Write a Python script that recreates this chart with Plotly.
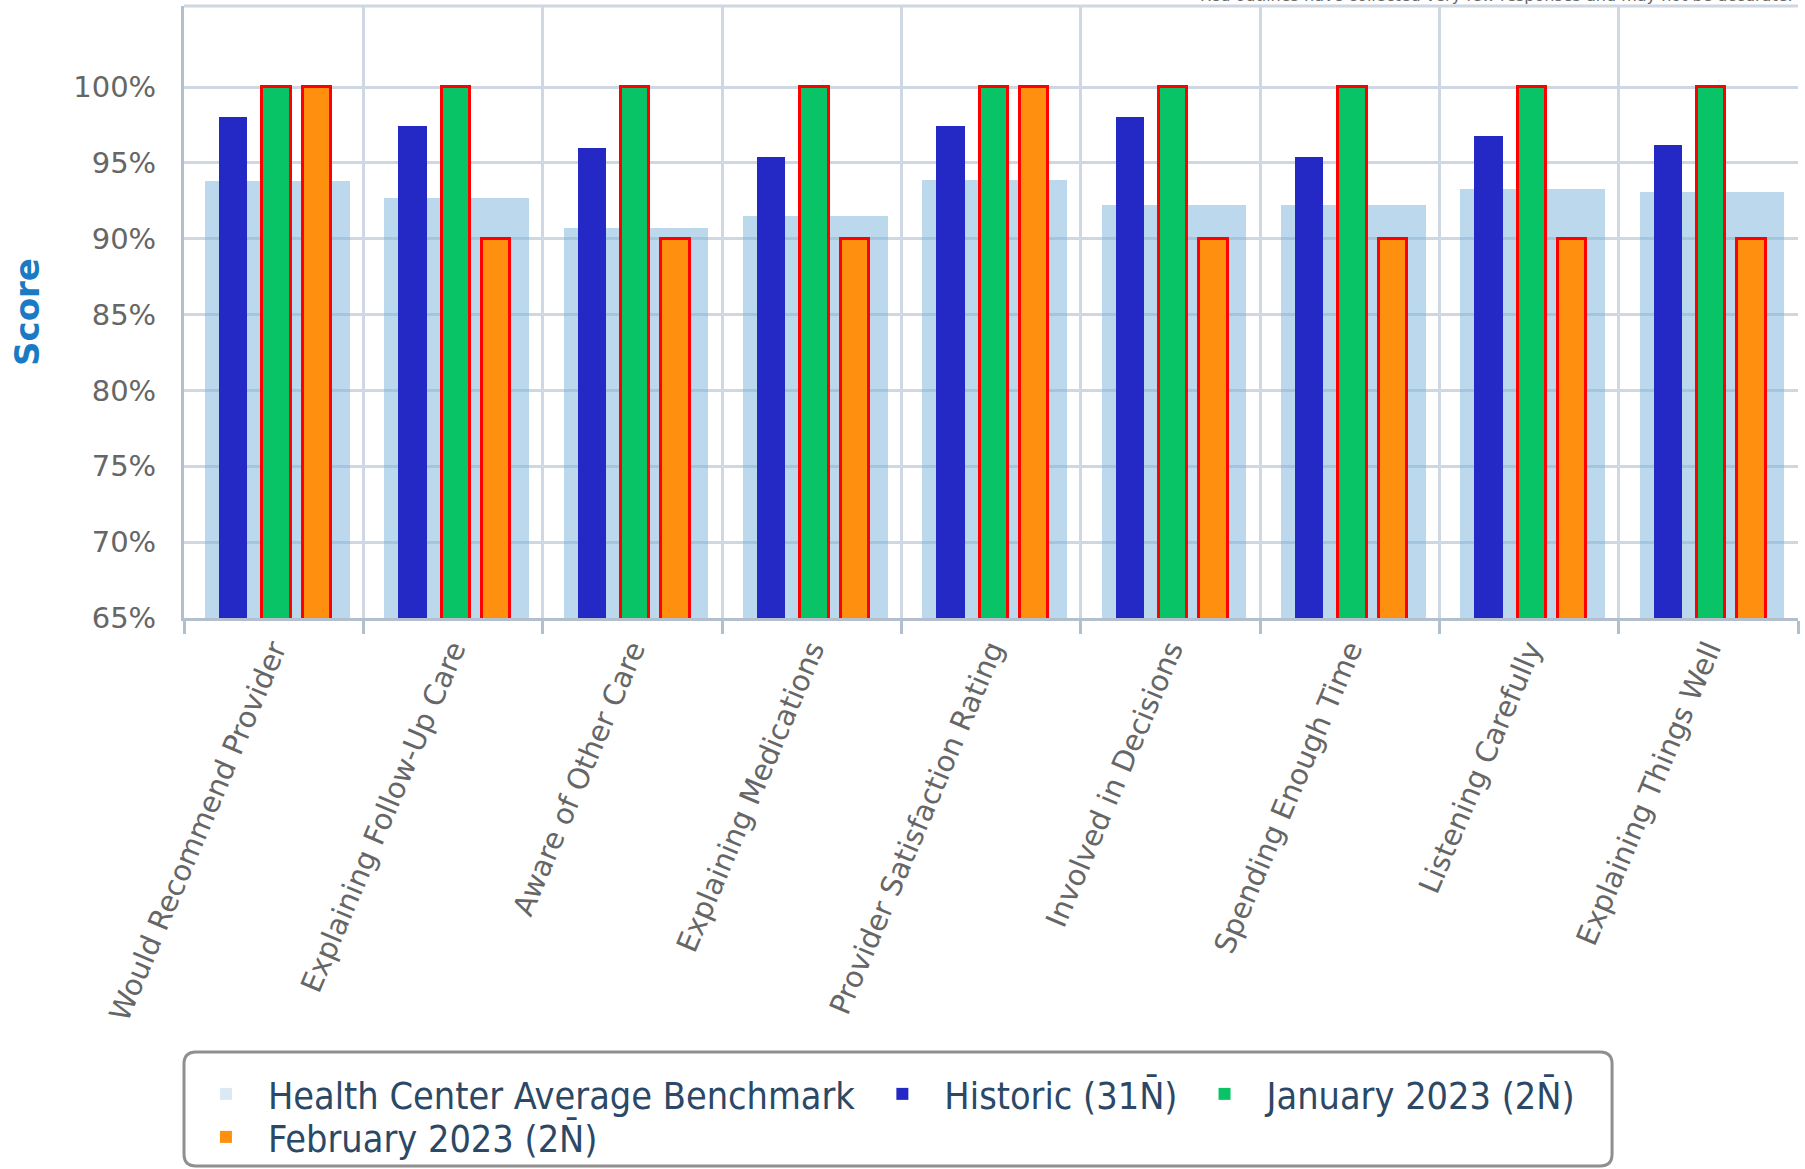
import plotly.graph_objects as go

categories = [
    "Would Recommend Provider",
    "Explaining Follow-Up Care",
    "Aware of Other Care",
    "Explaining Medications",
    "Provider Satisfaction Rating",
    "Involved in Decisions",
    "Spending Enough Time",
    "Listening Carefully",
    "Explaining Things Well",
]
benchmark = [93.8, 92.7, 90.7, 91.5, 93.9, 92.2, 92.2, 93.3, 93.1]
historic = [98.0, 97.4, 96.0, 95.4, 97.4, 98.0, 95.4, 96.8, 96.2]
january = [100, 100, 100, 100, 100, 100, 100, 100, 100]
february = [100, 90, 90, 90, 100, 90, 90, 90, 90]
y_ticks = [65, 70, 75, 80, 85, 90, 95, 100]
y_tick_labels = ["65%", "70%", "75%", "80%", "85%", "90%", "95%", "100%"]

series_names = [
    "Health Center Average Benchmark",
    "Historic (31N\u0304)",
    "January 2023 (2N\u0304)",
    "February 2023 (2N\u0304)",
]

FONT = "DejaVu Sans"
GRID = "#cfd8e2"
AXIS = "#b3bfcc"
BENCH = "rgba(120,178,218,0.5)"
HIST = "#2429c5"
JAN = "#08c466"
FEB = "#ff8f0e"
RED = "#ff0000"

fig = go.Figure()

bw = 0.807
nw = 0.158
specs = [
    (benchmark, series_names[0], bw, 0.02, BENCH, 0),
    (historic, series_names[1], nw, -0.226, HIST, 0),
    (january, series_names[2], nw, 0.016, JAN, 3),
    (february, series_names[3], nw, 0.241, FEB, 3),
]
for vals, name, w, c, col, lw in specs:
    fig.add_trace(go.Bar(
        x=categories, y=vals, name=name, legendgroup=name, showlegend=False,
        width=w, offset=c - w / 2,
        marker=dict(color=col, line=dict(color=RED, width=lw)),
    ))

legend_colors = ["#dbe9f4", HIST, JAN, FEB]
legend_ids = ["legend", "legend", "legend", "legend2"]
for name, col, lid in zip(series_names, legend_colors, legend_ids):
    fig.add_trace(go.Bar(
        x=[None], y=[None], name=name, legendgroup=name, showlegend=True,
        legend=lid, marker=dict(color=col, line=dict(width=0)),
    ))

legend_common = dict(
    orientation="h", xref="container", yref="container",
    x=0.1019, xanchor="left", yanchor="middle",
    font=dict(family="DejaVu Sans Condensed, DejaVu Sans", size=37.5, color="#2b4866"),
    borderwidth=0, bgcolor="rgba(0,0,0,0)", itemwidth=74, traceorder="normal",
)

fig.update_layout(
    width=1805, height=1169,
    margin=dict(l=184, r=7, t=6, b=551, autoexpand=False),
    barmode="overlay",
    plot_bgcolor="white", paper_bgcolor="white",
    font=dict(family=FONT, color="#666666"),
    showlegend=True,
    legend=dict(legend_common, y=1 - 1094 / 1169),
    legend2=dict(legend_common, y=1 - 1137 / 1169),
    bargap=0,
)

fig.update_xaxes(
    type="category", tickson="boundaries", automargin=False,
    showgrid=True, gridcolor=GRID, gridwidth=3,
    showline=True, linecolor=AXIS, linewidth=3,
    ticks="outside", ticklen=13, tickwidth=3, tickcolor=AXIS,
    tickangle=-67, tickfont=dict(family=FONT, size=29, color="#666666"),
    range=[-0.5, 8.5],
)
fig.update_yaxes(
    range=[65, 105.34], tickmode="array", tickvals=y_ticks, ticktext=y_tick_labels,
    automargin=False,
    showgrid=True, gridcolor=GRID, gridwidth=3,
    showline=True, linecolor=AXIS, linewidth=3,
    ticks="", ticklabelstandoff=19,
    tickfont=dict(family=FONT, size=29, color="#666666"),
    zeroline=False,
    title=dict(text="<b>Score</b>", font=dict(family=FONT, size=34, color="#1a7bc4"), standoff=24),
)

fig.add_shape(type="line", xref="paper", yref="paper", x0=0, x1=1, y0=1, y1=1,
              line=dict(color=GRID, width=3), layer="below")

# rounded legend frame
x0, x1 = 0.0, 0.8848
yt, yb = -0.7092, -0.8954
rx, ry = 12 / 1614, 12 / 612
frame = (f"M {x0+rx},{yt} L {x1-rx},{yt} Q {x1},{yt} {x1},{yt-ry} "
         f"L {x1},{yb+ry} Q {x1},{yb} {x1-rx},{yb} L {x0+rx},{yb} "
         f"Q {x0},{yb} {x0},{yb+ry} L {x0},{yt-ry} Q {x0},{yt} {x0+rx},{yt} Z")
fig.add_shape(type="path", xref="paper", yref="paper", path=frame,
              line=dict(color="#8f8f8f", width=3), fillcolor="rgba(0,0,0,0)")

fig.add_annotation(
    text="Red outlines have collected very few responses and may not be accurate.",
    xref="paper", yref="paper", x=1, y=1, xanchor="right", yanchor="bottom",
    xshift=-3, yshift=-1, showarrow=False,
    font=dict(family=FONT, size=16, color="#666666"),
)

fig.write_html("out.html", config={"displayModeBar": False},
               post_script="document.body.style.margin='0';")
